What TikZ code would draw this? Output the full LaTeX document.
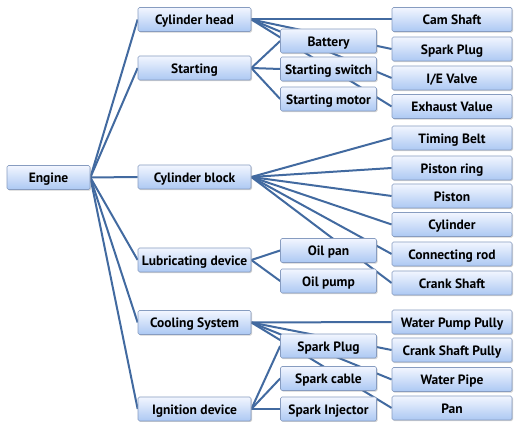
\documentclass[tikz,border=0pt]{standalone}
\usepackage{fontspec}
\setmainfont{PT Sans}
\usetikzlibrary{shadows,backgrounds}

\definecolor{wire}{RGB}{66,106,160}
\definecolor{boxtop}{RGB}{242,246,255}
\definecolor{boxbot}{RGB}{172,200,243}
\definecolor{boxline}{RGB}{135,156,192}

\begin{document}
\begin{tikzpicture}[x=1pt,y=-1pt,
  part/.style={draw=boxline,line width=0.7pt,rounded corners=1.5pt,
    top color=boxtop,bottom color=boxbot,
    drop shadow={shadow xshift=1pt,shadow yshift=-1.2pt,opacity=0.35},
    font=\bfseries\fontsize{13.5}{14}\selectfont,inner sep=0pt,
    text height=10.5pt,text depth=0pt,minimum height=24pt},
  wire/.style={draw=wire,line width=2pt}]

\useasboundingbox (0,0) rectangle (515,422);

\def\xa{48.5} \def\xb{194.5} \def\xc{328.5} \def\xd{452}

% engine and main groups
\node[part,minimum width=83pt] (engine) at (\xa,177.5) {Engine};
\foreach \y/\n/\t in {19.5/head/Cylinder head, 68/starting/Starting,
    177/block/Cylinder block, 260/lube/Lubricating device,
    322.5/cooling/Cooling System, 409/ignition/Ignition device}
  \node[part,minimum width=113pt] (\n) at (\xb,\y) {\t};

% middle column
\foreach \y/\n/\t in {41/battery/Battery, 69/switch/Starting switch,
    99/motor/Starting motor, 250.5/oilpan/Oil pan, 281/oilpump/Oil pump,
    346/plug/Spark Plug, 378.5/cable/Spark cable, 409/injector/Spark Injector}
  \node[part,minimum width=96pt] (\n) at (\xc,\y) {\t};

% right column
\foreach \y/\n/\t in {19.5/cam/Cam Shaft, 49/rplug/Spark Plug, 78/valve/{I/E Valve},
    106.5/exhaust/Exhaust Value, 138/belt/Timing Belt, 168/ring/Piston ring,
    196/piston/Piston, 224.5/cyl/Cylinder, 254/rod/Connecting rod,
    283/crank/Crank Shaft, 322/wpump/Water Pump Pully,
    350/cpully/Crank Shaft Pully, 379.5/pipe/Water Pipe, 408/pan/Pan}
  \node[part,minimum width=120pt] (\n) at (\xd,\y) {\t};

\begin{pgfonlayer}{background}
 \foreach \n in {head,starting,block,lube,cooling,ignition}
  \draw[wire] (engine.east) -- (\n.west);
 \foreach \n in {cam,rplug,valve,exhaust}
  \draw[wire] (head.east) -- (\n.west);
 \foreach \n in {battery,switch,motor}
  \draw[wire] (starting.east) -- (\n.west);
 \foreach \n in {belt,ring,piston,cyl,rod,crank}
  \draw[wire] (block.east) -- (\n.west);
 \foreach \n in {oilpan,oilpump}
  \draw[wire] (lube.east) -- (\n.west);
 \foreach \n in {wpump,cpully,pipe,pan}
  \draw[wire] (cooling.east) -- (\n.west);
 \foreach \n in {plug,cable,injector}
  \draw[wire] (ignition.east) -- (\n.west);
\end{pgfonlayer}

\end{tikzpicture}
\end{document}
